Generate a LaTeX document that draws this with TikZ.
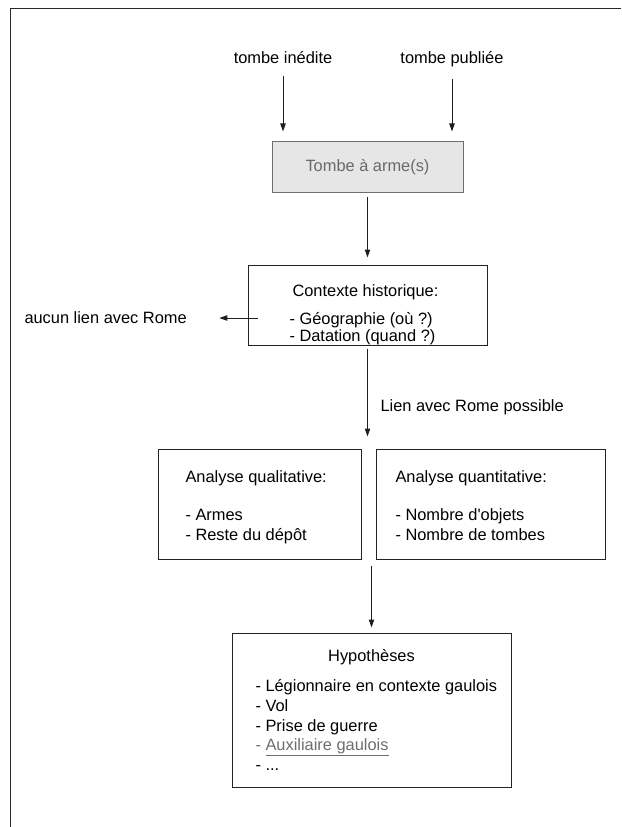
\documentclass[tikz,border=0pt]{standalone}
\usepackage{fontspec}
\setmainfont{Liberation Sans}
\usetikzlibrary{arrows.meta,calc}

\tikzset{every picture/.style={line width=0.75pt}}
\tikzset{
	boite/.style={draw={rgb, 255:red, 35; green, 35; blue, 35 }, inner sep=0pt},
	boitegrise/.style={draw={rgb, 255:red, 110; green, 110; blue, 110 }, fill={rgb, 255:red, 230; green, 230; blue, 230 }, text={rgb, 255:red, 105; green, 105; blue, 105 }, inner sep=0pt, font=\fontsize{12.3}{15}\selectfont},
	texte/.style={inner sep=0pt, font=\fontsize{12.3}{15}\selectfont},
	fleche/.style={draw={rgb, 255:red, 30; green, 30; blue, 30 }, -{Triangle[length=6pt,width=4pt]}}
}

\begin{document}
\begin{tikzpicture}[x=0.75pt,y=0.75pt,yscale=-1,xscale=1]
	\useasboundingbox (0,0) rectangle (621,827);

	%Straight Lines: frame
	\draw [line width=0.95pt, color={rgb, 255:red, 40; green, 40; blue, 40 }] (621,8.5) -- (10.5,8.5) -- (10.5,827) ;

	%Shape: Rectangle
	\node [boitegrise, minimum width=143.25pt, minimum height=38.25pt] (tombe) at (367.5,167.5) {Tombe à arme(s)};
	%Shape: Rectangle
	\node [boite, minimum width=179.25pt, minimum height=60pt] (contexte) at (367.5,305) {};
	%Shape: Rectangle
	\node [boite, minimum width=152.25pt, minimum height=82.5pt] (qual) at (259.5,504) {};
	%Shape: Rectangle
	\node [boite, minimum width=171.75pt, minimum height=82.5pt] (quant) at (490.5,504) {};
	%Shape: Rectangle
	\node [boite, minimum width=209.25pt, minimum height=115.5pt] (hyp) at (371.5,710) {};

	% Text Node
	\node [texte, anchor=base] (inedite) at (283,64) {tombe inédite};
	% Text Node
	\node [texte, anchor=base] (publiee) at (452,64) {tombe publiée};
	% Text Node
	\node [texte, anchor=base west] (ctxtitre) at (292,296) {Contexte historique:};
	% Text Node
	\node [texte, anchor=base west] (geo) at (289,324) {- Géographie (où ?)};
	% Text Node
	\node [texte, anchor=base west] (datation) at (289,341) {- Datation (quand ?)};
	% Text Node
	\node [texte, anchor=west] (aucun) at (24,318) {aucun lien avec Rome};
	% Text Node
	\node [texte, anchor=base west] (lien) at (380,411) {Lien avec Rome possible};
	% Text Node
	\node [texte, anchor=base west] (qualtitre) at (185,482) {Analyse qualitative:};
	% Text Node
	\node [texte, anchor=base west] (armes) at (185,520) {- Armes};
	% Text Node
	\node [texte, anchor=base west] (reste) at (185,540) {- Reste du dépôt};
	% Text Node
	\node [texte, anchor=base west] (quanttitre) at (395,482) {Analyse quantitative:};
	% Text Node
	\node [texte, anchor=base west] (objets) at (395,520) {- Nombre d\textquotesingle objets};
	% Text Node
	\node [texte, anchor=base west] (tombes) at (395,540) {- Nombre de tombes};
	% Text Node
	\node [texte, anchor=base] (hyptitre) at (371.5,661) {Hypothèses};
	% Text Node
	\node [texte, anchor=base west] (legion) at (255,691) {- Légionnaire en contexte gaulois};
	% Text Node
	\node [texte, anchor=base west] (vol) at (255,711) {- Vol};
	% Text Node
	\node [texte, anchor=base west] (prise) at (255,731) {- Prise de guerre};
	% Text Node
	\node [texte, anchor=base west, text={rgb, 255:red, 110; green, 110; blue, 110 }] (auxil) at (255,750) {- \underline{Auxiliaire gaulois}};
	% Text Node
	\node [texte, anchor=base west] (etc) at (255,770) {- ...};

	%Straight Lines
	\draw [fleche, shorten <=8.25pt, shorten >=7.5pt] (inedite) -- (inedite |- tombe.north) ;
	\draw [fleche, shorten <=8.25pt, shorten >=7.5pt] (publiee) -- (publiee |- tombe.north) ;
	\draw [fleche, shorten <=3pt, shorten >=5.25pt] (tombe) -- (contexte) ;
	\draw [fleche, shorten >=24pt] ($(contexte.west)+(10.5,13)$) -- (aucun.east) ;
	\draw [fleche, shorten <=2.25pt, shorten >=9pt] (contexte) -- (contexte.south |- qual.north) ;
	\draw [fleche, shorten <=4.5pt, shorten >=3.75pt] (hyp.north |- qual.south) -- (hyp) ;

\end{tikzpicture}
\end{document}
